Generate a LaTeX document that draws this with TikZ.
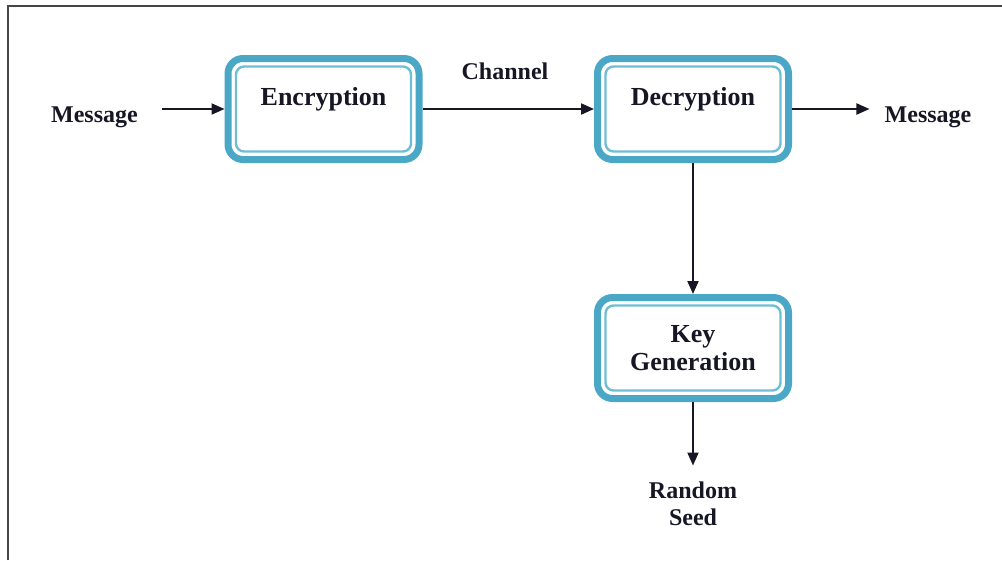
\documentclass[tikz,border=0pt]{standalone}
\usepackage{fontspec}
\setmainfont{Liberation Serif}
\usetikzlibrary{arrows.meta,calc}
\definecolor{boxteal}{RGB}{74,168,198}
\definecolor{boxtealsoft}{RGB}{112,190,214}
\definecolor{inkdark}{RGB}{22,22,36}
\definecolor{framegray}{RGB}{70,70,70}
\tikzset{
  stage/.style={draw=boxteal, line width=7pt, rounded corners=15pt,
    minimum width=191pt, minimum height=101pt, inner sep=0pt,
    align=center, text=inkdark, font=\bfseries\fontsize{26}{28}\selectfont},
  toptext/.style={text height=18pt, text depth=26pt},
  innerline/.style={draw=boxtealsoft, line width=2.4pt, rounded corners=8pt},
  tag/.style={inner sep=0pt, align=center, text=inkdark,
    font=\bfseries\fontsize{24}{27}\selectfont},
  flow/.style={draw=inkdark, line width=1.9pt,
    -{Triangle[length=13pt,width=11pt]}},
}
\begin{document}
\begin{tikzpicture}[x=1pt,y=-1pt]
  \useasboundingbox (0,0) rectangle (1002,560);
  % outer frame, open towards the right and bottom
  \draw[framegray, line width=1.8pt] (8,560) -- (8,6) -- (1002,6);

  % processing stages
  \node[stage, toptext] (enc) at (323.5,109) {Encryption};
  \node[stage, toptext] (dec) at (693,109) {Decryption};
  \node[stage] (kg) at (693,348) {Key\\Generation};
  \foreach \n in {enc,dec,kg}
    \draw[innerline] ($(\n.north west)+(11.5,11.5)$) rectangle ($(\n.south east)+(-11.5,-11.5)$);

  % labels
  \node[tag, anchor=base] (msgin) at (94.5,122) {Message};
  \node[tag, anchor=base] (chan) at (505,79) {Channel};
  \node[tag, anchor=base] (msgout) at (928,122) {Message};
  \node[tag, anchor=north] (seed) at (693,481.5) {Random\\Seed};

  % connectors
  \draw[flow, shorten <=24pt] (msgin.east |- enc.west) -- (enc.west);
  \draw[flow] (enc.east) -- (dec.west);
  \draw[flow, shorten >=15pt] (dec.east) -- (msgout.west |- dec.east);
  \draw[flow] (dec.south) -- (kg.north);
  \draw[flow, shorten >=16pt] (kg.south) -- (seed.north);
\end{tikzpicture}
\end{document}
